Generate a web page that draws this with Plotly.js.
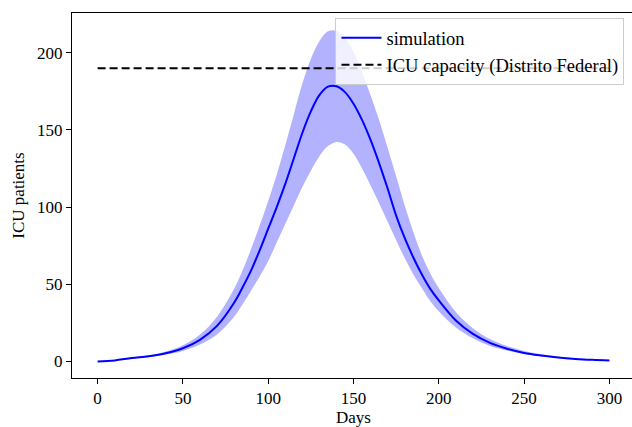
<!DOCTYPE html>
<html>
<head>
<meta charset="utf-8">
<script src="https://cdn.plot.ly/plotly-3.0.1.min.js"></script>
<style>
html, body { margin: 0; padding: 0; overflow: hidden; background: #fff; }
#chart { width: 636px; height: 427px; }
</style>
</head>
<body>
<div id="chart"></div>
<script>
// Days of the simulation
const days = [0, 10, 20, 30, 40, 50, 60, 70, 80, 85, 90, 95, 100, 105, 110, 115, 120, 125, 130, 135, 140,
              145, 150, 155, 160, 165, 170, 175, 180, 185, 190, 195, 200,
              210, 220, 230, 240, 250, 260, 270, 280, 290, 300];
// Mean simulated ICU patients
const meanICU = [0, 0.6, 2.2, 3.4, 5.3, 8.5, 14, 23, 38, 48, 59, 72, 86, 100, 115, 131.5, 148, 162, 172.5, 178, 178.3,
                 174.5, 167, 156.5, 143.5, 128.5, 112, 94.5, 80, 67.5, 56.5, 47, 39.5,
                 26.5, 17.8, 12, 8.2, 5.5, 3.8, 2.5, 1.6, 1.0, 0.6];
// Upper bound of the band
const upperICU = [0, 0.7, 2.5, 4.0, 6.5, 10.5, 17.5, 29, 47, 59, 73, 88, 104, 121, 140, 160, 180, 196, 207.5, 214, 214.2,
                  209.5, 200.5, 187.5, 172.5, 156.5, 138.5, 120, 101, 84, 69, 57, 47.5,
                  32, 21.5, 14.5, 10, 6.8, 4.6, 3.0, 2.0, 1.3, 0.8];
// Lower bound of the band
const lowerICU = [0, 0.5, 1.9, 2.9, 4.4, 6.8, 11, 17.5, 29, 37, 46, 55, 65, 77, 89, 101, 113, 123.5, 133, 139.5, 142.2,
                  140.5, 134.5, 125, 114, 102.5, 90.5, 78.5, 67, 56.5, 47.5, 39, 32.5,
                  22, 15, 10, 7, 4.8, 3.3, 2.2, 1.4, 0.9, 0.5];
// ICU capacity line
const capDays = [0, 300];
const capICU = [190, 190];

const FONT = "'Liberation Serif', 'Times New Roman', serif";

const traces = [
  {
    x: days, y: lowerICU, type: 'scatter', mode: 'lines',
    line: { width: 0, shape: 'spline', smoothing: 1 }, showlegend: false, hoverinfo: 'skip'
  },
  {
    x: days, y: upperICU, type: 'scatter', mode: 'lines', fill: 'tonexty',
    fillcolor: 'rgba(0,0,255,0.3)',
    line: { width: 0, shape: 'spline', smoothing: 1 }, showlegend: false, hoverinfo: 'skip'
  },
  {
    x: days, y: meanICU, type: 'scatter', mode: 'lines', name: 'simulation',
    line: { color: '#0000ff', width: 2, shape: 'spline', smoothing: 1 }
  },
  {
    x: capDays, y: capICU, type: 'scatter', mode: 'lines', name: 'ICU capacity (Distrito Federal)',
    line: { color: '#000000', width: 2, dash: '8px,4px' }
  }
];

const layout = {
  width: 636, height: 427,
  margin: { l: 72, r: 1, t: 13, b: 49 },
  paper_bgcolor: '#ffffff', plot_bgcolor: '#ffffff',
  font: { family: FONT, size: 17, color: '#000' },
  showlegend: true,
  legend: {
    x: 0.468, y: 0.986, xanchor: 'left', yanchor: 'top',
    bgcolor: 'rgba(255,255,255,0.8)', bordercolor: '#cccccc', borderwidth: 1,
    font: { family: FONT, size: 18.5, color: '#000' },
    traceorder: 'normal', tracegroupgap: 0, itemwidth: 40
  },
  xaxis: {
    range: [-15, 315], showgrid: false, zeroline: false,
    showline: true, linecolor: '#000', linewidth: 1, mirror: true,
    ticks: 'outside', ticklen: 5, tickwidth: 1, tickcolor: '#000',
    tickvals: [0, 50, 100, 150, 200, 250, 300],
    ticktext: ['0', '50', '100', '150', '200', '250', '300'],
    tickfont: { family: FONT, size: 17 },
    title: { text: 'Days', font: { family: FONT, size: 17 }, standoff: 4 }
  },
  yaxis: {
    range: [-10.75, 225.75], showgrid: false, zeroline: false,
    showline: true, linecolor: '#000', linewidth: 1, mirror: true,
    ticks: 'outside', ticklen: 5, tickwidth: 1, tickcolor: '#000',
    tickvals: [0, 50, 100, 150, 200],
    ticktext: ['0', '50', '100', '150', '200'],
    tickfont: { family: FONT, size: 17 },
    title: { text: 'ICU patients', font: { family: FONT, size: 17 }, standoff: 8 }
  }
};

Plotly.newPlot('chart', traces, layout, { displayModeBar: false, staticPlot: true });
</script>
</body>
</html>
